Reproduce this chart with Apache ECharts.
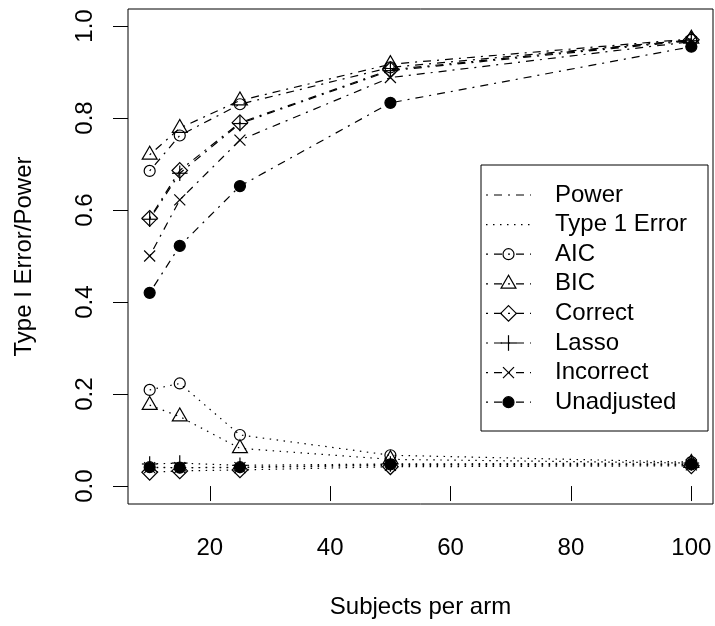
<!DOCTYPE html>
<html>
<head>
<meta charset="utf-8">
<script src="https://cdn.jsdelivr.net/npm/echarts@6/dist/echarts.min.js"></script>
<style>
  html, body { margin: 0; padding: 0; background: #fff; }
  #chart { width: 715px; height: 626px; }
</style>
</head>
<body>
<div id="chart"></div>
<script>
// Sample sizes (subjects per arm)
const subjects = [10, 15, 25, 50, 100];
const xTicks = [20, 40, 60, 80, 100];
const yTicks = [0, 0.2, 0.4, 0.6, 0.8, 1.0];

// Power by model-selection method
const powerAIC        = [0.685, 0.762, 0.830, 0.910, 0.970];
const powerBIC        = [0.720, 0.778, 0.838, 0.917, 0.972];
const powerCorrect    = [0.582, 0.686, 0.790, 0.905, 0.970];
const powerLasso      = [0.580, 0.680, 0.788, 0.903, 0.968];
const powerIncorrect  = [0.500, 0.622, 0.752, 0.888, 0.966];
const powerUnadjusted = [0.420, 0.522, 0.652, 0.833, 0.955];

// Type I error by model-selection method
const errorAIC        = [0.209, 0.223, 0.111, 0.067, 0.052];
const errorBIC        = [0.176, 0.151, 0.082, 0.058, 0.050];
const errorCorrect    = [0.030, 0.033, 0.035, 0.042, 0.044];
const errorLasso      = [0.048, 0.050, 0.045, 0.048, 0.050];
const errorIncorrect  = [0.040, 0.040, 0.040, 0.045, 0.046];
const errorUnadjusted = [0.041, 0.040, 0.041, 0.047, 0.047];

const methodNames = ['AIC', 'BIC', 'Correct', 'Lasso', 'Incorrect', 'Unadjusted'];
const legendLabels = ['Power', 'Type 1 Error'].concat(methodNames);

const powerSets = [powerAIC, powerBIC, powerCorrect, powerLasso, powerIncorrect, powerUnadjusted];
const errorSets = [errorAIC, errorBIC, errorCorrect, errorLasso, errorIncorrect, errorUnadjusted];
const markerKinds = ['circle', 'triangle', 'diamond', 'plus', 'cross', 'dot'];

const FONT = '"Liberation Sans", Arial, Helvetica, sans-serif';
const INK = '#000';
const LW = 1.2;
const DOTDASH = [2, 6, 8, 6];
const DOTTED = [1.5, 5.5];

// Plotting symbols in the style of R's pch 1, 2, 5, 3, 4, 19
function markerShape(kind, cx, cy) {
  const st = { fill: 'none', stroke: INK, lineWidth: LW };
  const r = 5.5;
  switch (kind) {
    case 'circle':
      return { type: 'circle', shape: { cx: cx, cy: cy, r: r }, style: st };
    case 'dot':
      return { type: 'circle', shape: { cx: cx, cy: cy, r: r }, style: { fill: INK, stroke: INK, lineWidth: LW } };
    case 'triangle': {
      const t = 8.6;
      return { type: 'polygon', shape: { points: [[cx, cy - t], [cx - t * 0.866, cy + t / 2], [cx + t * 0.866, cy + t / 2]] }, style: st };
    }
    case 'diamond': {
      const d = 7.8;
      return { type: 'polygon', shape: { points: [[cx, cy - d], [cx + d, cy], [cx, cy + d], [cx - d, cy]] }, style: st };
    }
    case 'plus': {
      const p = 7.8;
      return { type: 'group', children: [
        { type: 'line', shape: { x1: cx - p, y1: cy, x2: cx + p, y2: cy }, style: st },
        { type: 'line', shape: { x1: cx, y1: cy - p, x2: cx, y2: cy + p }, style: st }
      ] };
    }
    case 'cross': {
      const c = 5.5;
      return { type: 'group', children: [
        { type: 'line', shape: { x1: cx - c, y1: cy - c, x2: cx + c, y2: cy + c }, style: st },
        { type: 'line', shape: { x1: cx - c, y1: cy + c, x2: cx + c, y2: cy - c }, style: st }
      ] };
    }
  }
}

const series = [];
methodNames.forEach(function (name, i) {
  const pw = subjects.map(function (x, j) { return [x, powerSets[i][j]]; });
  const er = subjects.map(function (x, j) { return [x, errorSets[i][j]]; });
  series.push({
    name: name + ' power', type: 'line', data: pw, symbol: 'none', silent: true,
    lineStyle: { color: INK, width: LW, type: DOTDASH }
  });
  series.push({
    name: name + ' type I error', type: 'line', data: er, symbol: 'none', silent: true,
    lineStyle: { color: INK, width: LW, type: DOTTED }
  });
  series.push({
    name: name + ' points', type: 'custom', data: pw.concat(er), silent: true,
    renderItem: function (params, api) {
      const pt = api.coord([api.value(0), api.value(1)]);
      return markerShape(markerKinds[i], pt[0], pt[1]);
    }
  });
});

// Legend box, drawn as graphic elements
const legendElements = [];
const LX = 481, LY = 165, LWD = 227, LH = 266;
legendElements.push({ type: 'rect', shape: { x: LX, y: LY, width: LWD, height: LH },
  style: { fill: '#fff', stroke: INK, lineWidth: 1 } });
legendLabels.forEach(function (label, i) {
  const y = LY + 30 + i * 29.6;
  legendElements.push({ type: 'line', shape: { x1: 486, y1: y, x2: 531, y2: y },
    style: { stroke: INK, lineWidth: LW, lineDash: i === 1 ? DOTTED : DOTDASH } });
  if (i >= 2) legendElements.push(markerShape(markerKinds[i - 2], 508.5, y));
  legendElements.push({ type: 'text', x: 555, y: y,
    style: { text: label, font: '24px ' + FONT, fill: INK, align: 'left', verticalAlign: 'middle' } });
});

const chart = echarts.init(document.getElementById('chart'), null, { renderer: 'canvas' });
chart.setOption({
  animation: false,
  backgroundColor: '#fff',
  textStyle: { fontFamily: FONT, color: INK },
  grid: { left: 128, right: 2, top: 9, bottom: 122, show: true, borderColor: INK, borderWidth: 1, backgroundColor: 'transparent' },
  xAxis: {
    type: 'value', min: 6.4, max: 103.6,
    name: 'Subjects per arm', nameLocation: 'middle', nameGap: 91,
    nameTextStyle: { fontSize: 24, color: INK, fontFamily: FONT },
    axisLine: { show: false },
    splitLine: { show: false },
    axisTick: { show: true, customValues: xTicks, length: 15, lineStyle: { color: INK, width: 1 } },
    axisLabel: { customValues: xTicks, margin: 32, fontSize: 24, color: INK, fontFamily: FONT }
  },
  yAxis: {
    type: 'value', min: -0.039, max: 1.037,
    name: 'Type I Error/Power', nameLocation: 'middle', nameGap: 92,
    nameTextStyle: { fontSize: 24, color: INK, fontFamily: FONT },
    axisLine: { show: false },
    splitLine: { show: false },
    axisTick: { show: true, customValues: yTicks, length: 15, lineStyle: { color: INK, width: 1 } },
    axisLabel: { customValues: yTicks, rotate: 90, margin: 31, fontSize: 24, color: INK, fontFamily: FONT,
      formatter: function (v) { return v.toFixed(1); } }
  },
  series: series,
  graphic: { elements: legendElements }
});
</script>
</body>
</html>
